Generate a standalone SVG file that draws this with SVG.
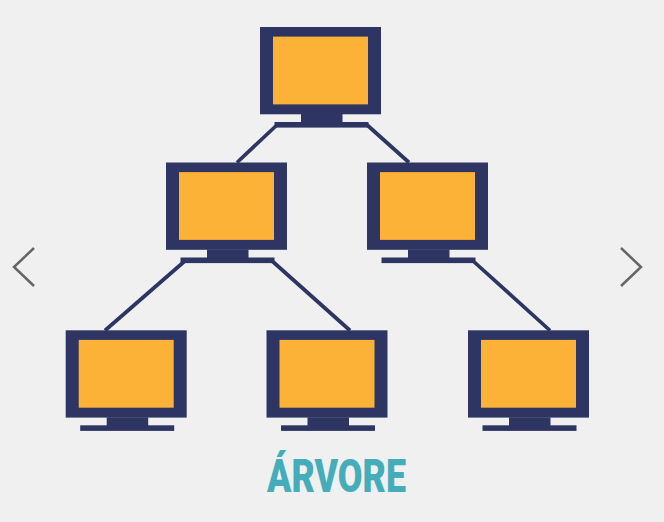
<svg xmlns="http://www.w3.org/2000/svg" width="664" height="522" viewBox="0 0 664 522">
  <style>
    .frame { fill: #2e3563; }
    .screen { fill: #fbb237; }
    .link { stroke: #2e3563; stroke-width: 3.7; fill: none; }
    .chev { stroke: #666666; stroke-width: 2.5; fill: none; }
    .title { font-family: Roboto, "Liberation Sans", sans-serif; font-weight: 900; font-size: 46px; fill: #45adb9; }
  </style>
  <defs>
    <g id="monitor">
      <rect class="frame" x="0" y="0" width="121" height="87.3"/>
      <rect class="screen" x="13" y="9.6" width="95" height="67.8"/>
      <rect class="frame" x="41" y="87" width="41.5" height="9"/>
      <rect class="frame" x="14.5" y="95" width="94" height="5.6"/>
    </g>
  </defs>
  <rect width="664" height="522" fill="#f0f0f0"/>
  <g id="connectors">
    <line class="link" x1="278" y1="124" x2="237" y2="162.5"/>
    <line class="link" x1="366" y1="124" x2="409" y2="162.5"/>
    <line class="link" x1="186" y1="260" x2="105" y2="330.5"/>
    <line class="link" x1="271" y1="260" x2="350" y2="330.5"/>
    <line class="link" x1="472" y1="260" x2="550" y2="330.5"/>
  </g>
  <g id="node-root"><use href="#monitor" x="260" y="27"/></g>
  <g id="node-mid-left"><use href="#monitor" x="166" y="162.5"/></g>
  <g id="node-mid-right"><use href="#monitor" x="367" y="162.5"/></g>
  <g id="node-bottom-left"><use href="#monitor" x="65.7" y="330.3"/></g>
  <g id="node-bottom-mid"><use href="#monitor" x="266.5" y="330.3"/></g>
  <g id="node-bottom-right"><use href="#monitor" x="468" y="330.3"/></g>
  <text class="title" x="267" y="492" textLength="139" lengthAdjust="spacingAndGlyphs">ÁRVORE</text>
  <polyline class="chev" points="34,248 14,267 34,286"/>
  <polyline class="chev" points="621,248 641,267 621,286"/>
</svg>
